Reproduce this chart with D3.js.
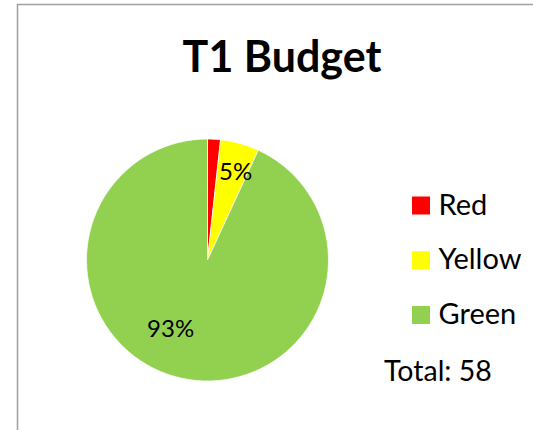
<!DOCTYPE html>
<html lang="en">
<head>
<meta charset="utf-8">
<title>T1 Budget</title>
<script src="https://cdn.jsdelivr.net/npm/d3@7"></script>
<style>
  html, body { margin: 0; padding: 0; background: #fff; }
  svg { display: block; font-family: "Lato", "Open Sans", sans-serif; }
</style>
</head>
<body>
<script>
// data
let categories = ["Red", "Yellow", "Green"];
let counts = [1, 3, 54];
let colours = ["#ff0000", "#ffff00", "#92d050"];
let chartTitle = "T1 Budget";

let w = 533, h = 430;
let cx = 207.5, cy = 260, radius = 121;

let svg = d3.select("body").append("svg")
    .attr("width", w)
    .attr("height", h);

// chart frame
svg.append("rect")
    .attr("x", 17.5).attr("y", 4.5)
    .attr("width", 540).attr("height", 440)
    .attr("fill", "none")
    .attr("stroke", "#a0a0a0")
    .attr("stroke-width", 1.5);

svg.append("text")
    .text(chartTitle)
    .attr("x", 282).attr("y", 72)
    .attr("text-anchor", "middle")
    .attr("font-weight", "bold")
    .attr("font-size", "43px")
    .attr("fill", "#000");

let total = d3.sum(counts);
let rows = categories.map((c, i) => ({ name: c, value: counts[i], colour: colours[i] }));

let pie = d3.pie().sort(null).value(d => d.value);
let arc = d3.arc().innerRadius(0).outerRadius(radius);
let arcs = pie(rows);

let g = svg.append("g").attr("transform", "translate(" + cx + "," + cy + ")");

g.selectAll("path")
    .data(arcs)
    .enter()
    .append("path")
    .attr("d", arc)
    .attr("fill", d => d.data.colour)
    .attr("stroke", "#fff")
    .attr("stroke-width", 0.75);

// labels sit roughly like Excel's best fit: radius ratio and a small angle nudge
let labelRatio = [0.77, 0.77, 0.64];
let labelNudge = [0, 2, 16]; // degrees
g.selectAll("text.pct")
    .data(arcs.filter(d => d.data.value / total >= 0.03))
    .enter()
    .append("text")
    .attr("class", "pct")
    .attr("transform", d => {
        let i = categories.indexOf(d.data.name);
        let a = (d.startAngle + d.endAngle) / 2 + labelNudge[i] * Math.PI / 180;
        let r = radius * labelRatio[i];
        return "translate(" + (r * Math.sin(a)) + "," + (-r * Math.cos(a)) + ")";
    })
    .attr("text-anchor", "middle")
    .attr("dy", "0.35em")
    .attr("font-size", "24px")
    .attr("fill", "#000")
    .text(d => Math.round(d.data.value / total * 100) + "%");

// legend
let legendY = d3.scalePoint().domain(categories).range([205.5, 315]);
let legend = svg.append("g");
let item = legend.selectAll("g")
    .data(rows)
    .enter()
    .append("g")
    .attr("transform", d => "translate(412," + legendY(d.name) + ")");

item.append("rect")
    .attr("x", 0).attr("y", -9)
    .attr("width", 18).attr("height", 18)
    .attr("fill", d => d.colour);

item.append("text")
    .attr("x", 26.5).attr("y", 9)
    .attr("font-size", "29px")
    .attr("fill", "#000")
    .text(d => d.name);

svg.append("text")
    .attr("x", 384).attr("y", 381)
    .attr("font-size", "28.5px")
    .attr("fill", "#000")
    .text("Total: " + total);
</script>
</body>
</html>
